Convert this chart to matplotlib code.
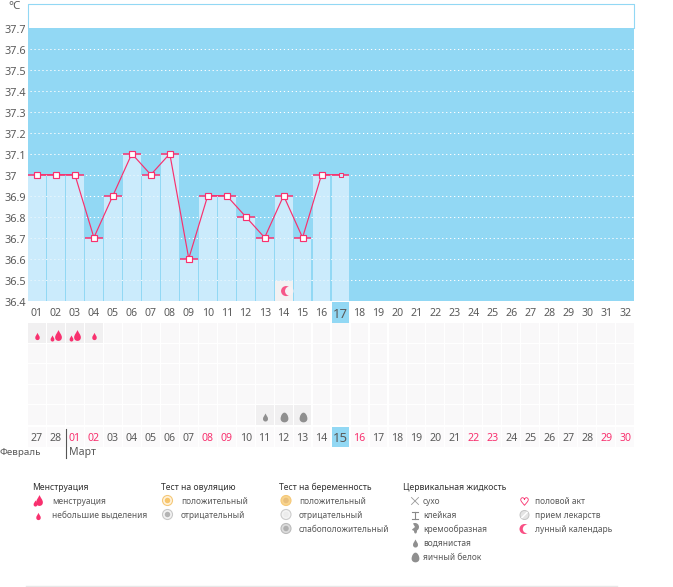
import numpy as np
import matplotlib
matplotlib.use("Agg")
import matplotlib.pyplot as plt
from matplotlib.patches import Rectangle, Circle, Ellipse, Wedge
from matplotlib.path import Path
from matplotlib.transforms import ScaledTranslation

plt.rcParams['font.family'] = ['Noto Sans', 'DejaVu Sans']

# ---------- data ----------
cycle_days = list(range(1, 33))
temps = [37.0, 37.0, 37.0, 36.7, 36.9, 37.1, 37.0, 37.1, 36.6, 36.9, 36.9, 36.8, 36.7, 36.9, 36.7, 37.0, 37.0]
y_ticks = [36.4, 36.5, 36.6, 36.7, 36.8, 36.9, 37.0, 37.1, 37.2, 37.3, 37.4, 37.5, 37.6, 37.7]
y_labels = ['36.4', '36.5', '36.6', '36.7', '36.8', '36.9', '37', '37.1', '37.2', '37.3', '37.4', '37.5', '37.6', '37.7']
today_day = 17
moon_day = 14
bleeding_days = [1, 2, 3, 4]
bleeding_level = ['light', 'heavy', 'heavy', 'light']
mucus_days = [13, 14, 15]
mucus_kind = ['watery', 'egg', 'egg']
calendar_dates = ['27', '28', '01', '02', '03', '04', '05', '06', '07', '08', '09', '10', '11', '12', '13', '14',
                  '15', '16', '17', '18', '19', '20', '21', '22', '23', '24', '25', '26', '27', '28', '29', '30']
weekend_cycle_days = [3, 4, 10, 11, 18, 24, 25, 31, 32]
months = ['Февраль', 'Март']
legend_groups = {
    'Менструация': ['менструация', 'небольшие выделения'],
    'Тест на овуляцию': ['положительный', 'отрицательный'],
    'Тест на беременность': ['положительный', 'отрицательный', 'слабоположительный'],
    'Цервикальная жидкость': ['сухо', 'клейкая', 'кремообразная', 'водянистая', 'яичный белок'],
    '': ['половой акт', 'прием лекарств', 'лунный календарь'],
}

# ---------- style ----------
W, H = 673, 587
SKY = '#92D8F4'
BAR = '#CBEBFC'
PINK = '#F8306E'
TXT = '#5A5A5A'
CELL = '#F9F8F9'
CELL_ON = '#F1F0F1'
GREY = '#8F8F8F'
DOTS = (0, (1.2, 2.6))

def px_axes(fig, l, t, r, b):
    return fig.add_axes([l / W, 1 - b / H, (r - l) / W, (b - t) / H])

DROP = Path([(0, 1), (0.25, 0.45), (0.62, 0.1), (0.62, -0.35), (0.62, -0.8), (0.3, -1), (0, -1),
             (-0.3, -1), (-0.62, -0.8), (-0.62, -0.35), (-0.62, 0.1), (-0.25, 0.45), (0, 1)],
            [1, 4, 4, 4, 4, 4, 4, 4, 4, 4, 4, 4, 4])
EGG = Path([(0, 1), (0.45, 1), (0.8, 0.3), (0.8, -0.25), (0.8, -0.75), (0.4, -1), (0, -1),
            (-0.4, -1), (-0.8, -0.75), (-0.8, -0.25), (-0.8, 0.3), (-0.45, 1), (0, 1)],
           [1, 4, 4, 4, 4, 4, 4, 4, 4, 4, 4, 4, 4])

def mark(ax, x, y, path, size, color, **kw):
    ax.plot([x], [y], marker=path, ms=size, mfc=color, mec='none', ls='none', clip_on=False, **kw)

fig = plt.figure(figsize=(W / 100, H / 100), dpi=100, facecolor='white')

# ---------- temperature chart ----------
ax = px_axes(fig, 27.5, 3.5, 634, 300.5)
y_top = 37.7 + 24.5 / 210
ax.set_xlim(0.5, 32.47)
ax.set_ylim(36.4, y_top)
ax.set_facecolor(SKY)
ax.add_patch(Rectangle((0.5, 37.7), 31.97, y_top - 37.7, fc='white', ec='none', zorder=1))
for s in ax.spines.values():
    s.set_visible(False)
ax.plot([0.5, 0.5, 32.47, 32.47], [37.7, y_top, y_top, 37.7], color=SKY, lw=0.8, clip_on=False, zorder=2)

for v in y_ticks[1:-1]:
    ax.plot([0.65, 32.47], [v, v], color='white', lw=0.75, ls=DOTS, zorder=1.5)

days = np.array(cycle_days[:len(temps)])
t = np.array(temps)
ax.bar(days, t - 36.4, bottom=36.4, width=0.94, color=BAR, zorder=3)
for v in y_ticks[1:7]:
    ax.plot([0.65, len(temps) + 0.5], [v, v], color='white', lw=0.75, ls=DOTS, alpha=.6, zorder=3.2)
ax.hlines(t, days - 0.47, days + 0.47, color=PINK, lw=1.1, zorder=4)
ax.plot(days, t, color=PINK, lw=0.85, zorder=5)
ax.plot(days[:-1], t[:-1], ls='none', marker='s', ms=3.7, mfc='white', mec=PINK, mew=0.85, zorder=6)
ax.plot(days[-1:], t[-1:], ls='none', marker='s', ms=3.0, mfc=BAR, mec=PINK, mew=0.75, zorder=6)

# moon cell inside the chart
ax.add_patch(Rectangle((moon_day - 0.47, 36.4), 0.94, 0.095, fc='#F2F1F2', ec='none', zorder=4))
ax.add_patch(Ellipse((moon_day + 0.13, 36.445), 0.53, 0.048, fc=PINK, ec='none', alpha=.8, zorder=5))
ax.add_patch(Ellipse((moon_day + 0.3, 36.445), 0.45, 0.043, fc='#F7F1F3', ec='none', zorder=6))

ax.set_xticks(cycle_days)
ax.set_xticklabels([f'{d:02d}' for d in cycle_days], fontsize=7.6, color=TXT)
ax.tick_params(axis='x', length=0, pad=5.2)
for lab, d in zip(ax.get_xticklabels(), cycle_days):
    if d == today_day:
        lab.set_fontsize(9.4)
ax.set_yticks(y_ticks)
ax.set_yticklabels(y_labels, fontsize=7.8, color=TXT, ha='left')
ax.tick_params(axis='y', length=0, pad=16.5)
shift = ScaledTranslation(0, -1.5 / 100, fig.dpi_scale_trans)
for lab in ax.get_yticklabels():
    lab.set_transform(lab.get_transform() + shift)

# ---------- lower grid ----------
low = px_axes(fig, 27.5, 302, 634, 448)
low.set_xlim(0.5, 32.47)
low.set_ylim(448, 302)
low.axis('off')
low.patch.set_alpha(0)
low.set_zorder(-1)
ax.set_zorder(0)
rows = [323, 343.6, 364.2, 384.8, 405.4]
row_h = 19.6
for c in cycle_days:
    for r in rows:
        low.add_patch(Rectangle((c - 0.47, r), 0.94, row_h, fc=CELL, ec='none'))
    low.add_patch(Rectangle((c - 0.47, 427), 0.94, 20, fc='#FBFAFB', ec='none'))
low.add_patch(Rectangle((today_day - 0.47, 302), 0.94, 21, fc=SKY, ec='none', zorder=2))
low.add_patch(Rectangle((today_day - 0.47, 427), 0.94, 20, fc=SKY, ec='none', zorder=2))

for d, lev in zip(bleeding_days, bleeding_level):
    low.add_patch(Rectangle((d - 0.47, rows[0]), 0.94, row_h, fc=CELL_ON, ec='none', zorder=1))
    if lev == 'light':
        mark(low, d, 335.5, DROP, 5.2, PINK, zorder=3)
    else:
        mark(low, d + 0.12, 334.5, DROP, 7.8, PINK, zorder=3)
        mark(low, d - 0.22, 337.5, DROP, 4.4, PINK, zorder=3)
for d, kind in zip(mucus_days, mucus_kind):
    low.add_patch(Rectangle((d - 0.47, rows[4]), 0.94, row_h, fc=CELL_ON, ec='none', zorder=1))
    if kind == 'watery':
        mark(low, d, 417, DROP, 5.8, GREY, zorder=3)
    else:
        mark(low, d, 417, EGG, 7, GREY, zorder=3)

for c, lab in zip(cycle_days, calendar_dates):
    col = PINK if c in weekend_cycle_days else TXT
    low.text(c, 438.5, lab, ha='center', va='center', color=col, fontsize=9.4 if c == today_day else 7.6, zorder=3)

# ---------- overlay: month names and legend ----------
ov = fig.add_axes([0, 0, 1, 1])
ov.set_xlim(0, W)
ov.set_ylim(H, 0)
ov.axis('off')
ov.patch.set_alpha(0)
ov.text(20.5, 6.5, '°C', ha='right', va='center', fontsize=8.4, color=TXT)
ov.plot([65.5, 65.5], [429, 458], color='#555555', lw=0.8)
ov.text(41, 452.5, months[0], ha='right', va='center', fontsize=7.0, color=TXT)
ov.text(69, 452.5, months[1], ha='left', va='center', fontsize=7.6, color=TXT)
ov.plot([26, 617], [586, 586], color='#E8E8E8', lw=1)

titles = list(legend_groups)
title_x = [32, 161, 279, 403, None]
text_x = [52, 181, 299, 423, 535]
icon_x = [37, 167, 286, 415, 524]
y0 = 501
dy = 14
for ti, tx, lx in zip(titles, title_x, text_x):
    if ti:
        ov.text(tx, 487, ti, fontsize=6.2, color='#333333', ha='left', va='center')
    for i, s in enumerate(legend_groups[ti]):
        ov.text(lx, y0 + i * dy, s, fontsize=6.05, color=TXT, ha='left', va='center')

def ring(x, y, outer, mid, inner, r=5):
    ov.add_patch(Circle((x, y), r, fc=mid, ec=outer, lw=0.8))
    ov.add_patch(Circle((x, y), r * 0.55, fc=inner, ec='none'))

# menstruation
mark(ov, 38.5, 500, DROP, 7.8, PINK)
mark(ov, 34.5, 503, DROP, 4.4, PINK)
mark(ov, 37.5, 515.5, DROP, 5.2, PINK)
# ovulation
ring(167.5, 500.5, '#F5C878', '#FFF3DC', '#F7C56C')
ring(167.5, 514.5, '#C8C8C8', '#F3F3F3', '#B4B4B4')
# pregnancy
ring(286, 500.5, '#F5C878', '#F9D58E', '#E8BE7C')
ring(286, 514.5, '#CCCCCC', '#F4F4F4', '#ECECEC')
ring(286, 528.5, '#BBBBBB', '#DDDDDD', '#B0B0B0')
# cervical fluid
cx = icon_x[3]
ov.plot([cx - 3.5, cx + 3.5], [497.5, 504.5], color='#999999', lw=0.6)
ov.plot([cx - 3.5, cx + 3.5], [504.5, 497.5], color='#999999', lw=0.6)
ov.plot([cx - 3, cx + 3], [511.5, 511.5], color='#888888', lw=0.8)
ov.plot([cx - 3, cx + 3], [519, 519], color='#888888', lw=0.8)
ov.plot([cx, cx], [511.5, 519], color='#888888', lw=0.8)
ov.add_patch(Wedge((cx, 527), 4, -120, 140, fc=GREY, ec='none'))
ov.add_patch(Ellipse((cx + 0.5, 531), 3, 5, fc=GREY, ec='none'))
mark(ov, cx, 543, DROP, 5.8, GREY)
mark(ov, cx, 557, EGG, 7, GREY)
# other
ox = icon_x[4]
ov.plot([ox], [501], marker='$\u2665$', ms=5.5, mfc='white', mec=PINK, mew=0.6, ls='none')
ov.add_patch(Circle((ox + 0.5, 515), 4.5, fc='#E4E4E4', ec='#C4C4C4', lw=0.7))
ov.plot([ox - 2, ox + 3], [517.5, 512.5], color='white', lw=1.1)
ov.add_patch(Circle((ox + 0.5, 529), 5, fc=PINK, ec='none', alpha=.85))
ov.add_patch(Circle((ox + 3, 529), 4.2, fc='white', ec='none'))

fig.savefig('out.png', dpi=100, facecolor='white')
